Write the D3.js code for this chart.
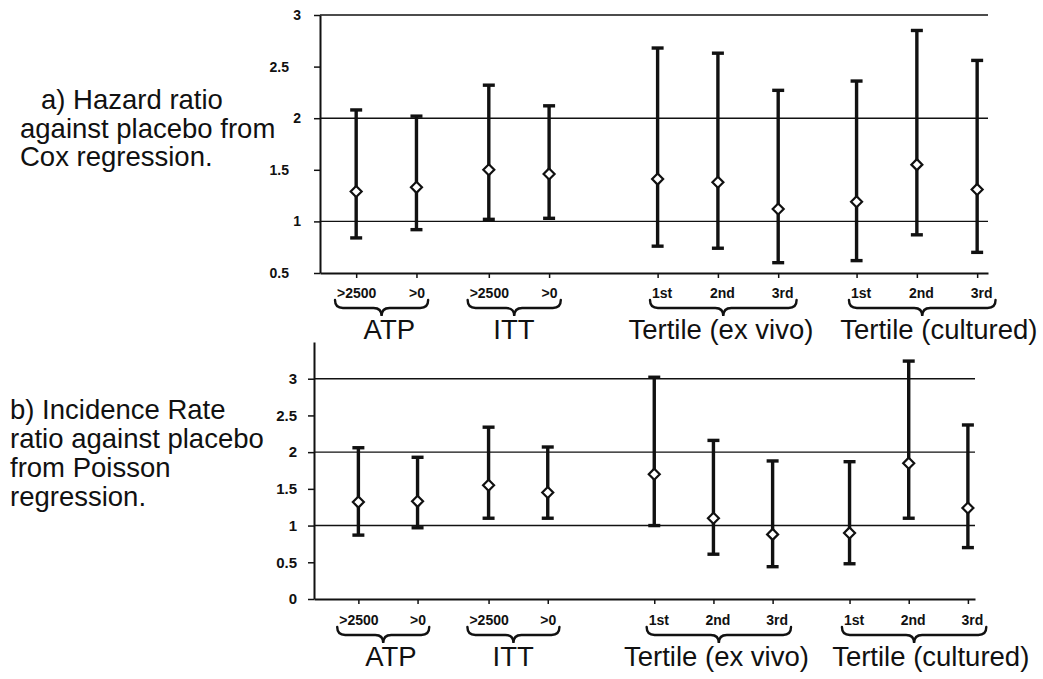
<!DOCTYPE html>
<html>
<head>
<meta charset="utf-8">
<script src="https://cdn.jsdelivr.net/npm/d3@7"></script>
<style>
  body { margin: 0; background: #fff; }
  svg { display: block; font-family: "Liberation Sans", Arial, sans-serif; }
</style>
</head>
<body>
<svg id="chart" width="1043" height="679"></svg>
<script>
// Categories along the x axis and the group each one belongs to
const categories = [">2500", ">0", ">2500", ">0", "1st", "2nd", "3rd", "1st", "2nd", "3rd"];
const groupNames = ["ATP", "ITT", "Tertile (ex vivo)", "Tertile (cultured)"];
const groupOf = [0, 0, 1, 1, 2, 2, 2, 3, 3, 3];

// a) Hazard ratio against placebo (Cox regression): estimate and 95% CI
const hazardEst  = [1.29, 1.33, 1.50, 1.46, 1.41, 1.38, 1.12, 1.19, 1.55, 1.31];
const hazardLow  = [0.84, 0.92, 1.02, 1.03, 0.76, 0.74, 0.60, 0.62, 0.87, 0.70];
const hazardHigh = [2.08, 2.02, 2.32, 2.12, 2.68, 2.63, 2.27, 2.36, 2.85, 2.56];
const hazardTicks = [0.5, 1, 1.5, 2, 2.5, 3];

// b) Incidence rate ratio against placebo (Poisson regression): estimate and 95% CI
const rateEst  = [1.32, 1.33, 1.55, 1.45, 1.70, 1.10, 0.88, 0.90, 1.85, 1.24];
const rateLow  = [0.87, 0.97, 1.10, 1.10, 1.00, 0.61, 0.44, 0.48, 1.10, 0.70];
const rateHigh = [2.06, 1.93, 2.34, 2.07, 3.02, 2.16, 1.88, 1.87, 3.24, 2.37];
const rateTicks = [0, 0.5, 1, 1.5, 2, 2.5, 3];

const gridValues = [1, 2, 3];

// Extra spacing inserted before each group on the category axis
const groupGap = [0, 0.2, 0.8, 0.3];
const slots = [];
{
  let offset = 0, prev = -1;
  categories.forEach((c, i) => {
    if (groupOf[i] !== prev) { offset += groupGap[groupOf[i]]; prev = groupOf[i]; }
    slots.push(i + offset);
  });
}

const svg = d3.select("#chart");

const panels = [
  {
    caption: ["a) Hazard ratio", "against placebo from", "Cox regression."],
    captionX: [41, 20, 20], captionY: 109, captionStep: 28.5,
    est: hazardEst, low: hazardLow, high: hazardHigh, ticks: hazardTicks,
    yDomain: [0.5, 3], left: 320, right: 988, top: 15, bottom: 273,
    xDomain: [-0.6, 10.48], tickFont: 14, intDx: -19, decDx: -31,
    labelY: 298, braceY: 300, groupY: 339
  },
  {
    caption: ["b) Incidence Rate", "ratio against placebo", "from Poisson", "regression."],
    captionX: [10, 10, 10, 10], captionY: 419, captionStep: 29,
    est: rateEst, low: rateLow, high: rateHigh, ticks: rateTicks,
    yDomain: [0, 3.5], left: 314, right: 975, top: 342, bottom: 599,
    xDomain: [-0.75, 10.42], tickFont: 15, intDx: -17, decDx: -17,
    labelY: 625, braceY: 627, groupY: 666
  }
];

// horizontal nudge of the group names relative to their members' centre
const labelShift = [3, -5, 3, 22];

function bracePath(x0, x1, y0) {
  const xm = (x0 + x1) / 2, yl = y0 + 8, tip = y0 + 16, r = 8;
  return `M${x0},${y0} C${x0},${yl - 3} ${x0 + 3},${yl} ${x0 + r},${yl}` +
         ` L${xm - r},${yl} C${xm - 3},${yl} ${xm},${yl + 3} ${xm},${tip}` +
         ` C${xm},${yl + 3} ${xm + 3},${yl} ${xm + r},${yl}` +
         ` L${x1 - r},${yl} C${x1 - 3},${yl} ${x1},${yl - 3} ${x1},${y0}`;
}

panels.forEach(p => {
  const g = svg.append("g");
  const x = d3.scaleLinear().domain(p.xDomain).range([p.left, p.right]);
  const y = d3.scaleLinear().domain(p.yDomain).range([p.bottom, p.top]);

  // caption on the left
  p.caption.forEach((line, i) => {
    g.append("text")
      .attr("x", p.captionX[i])
      .attr("y", p.captionY + i * p.captionStep)
      .attr("font-size", 27.5)
      .attr("fill", "#111")
      .text(line);
  });

  // horizontal reference lines
  g.append("g").selectAll("line").data(gridValues).join("line")
    .attr("x1", p.left).attr("x2", p.right)
    .attr("y1", d => y(d)).attr("y2", d => y(d))
    .attr("stroke", "#111").attr("stroke-width", 1.4);

  // y axis
  const yAxis = g.append("g")
    .attr("transform", `translate(${p.left},0)`)
    .call(d3.axisLeft(y).tickValues(p.ticks).tickSize(6).tickSizeOuter(0)
      .tickFormat(d => String(d)));
  yAxis.select(".domain").attr("stroke", "#111").attr("stroke-width", 2);
  yAxis.selectAll(".tick line").attr("stroke", "#111").attr("stroke-width", 1.5);
  yAxis.selectAll(".tick text")
    .attr("x", d => Number.isInteger(d) ? p.intDx : p.decDx)
    .attr("font-size", p.tickFont).attr("font-weight", "bold")
    .attr("font-family", "Liberation Sans, Arial, sans-serif")
    .attr("fill", "#111");

  // x axis with category ticks
  const xAxis = g.append("g")
    .attr("transform", `translate(0,${p.bottom})`)
    .call(d3.axisBottom(x).tickValues(slots).tickSize(5).tickSizeOuter(0)
      .tickFormat((d, i) => categories[i]));
  xAxis.select(".domain").attr("stroke", "#111").attr("stroke-width", 2);
  xAxis.selectAll(".tick line").attr("stroke", "#111").attr("stroke-width", 1.5);
  const xLabels = xAxis.selectAll(".tick text")
    .attr("y", p.labelY - p.bottom).attr("dy", 0)
    .attr("dx", (d, i) => groupOf[i] >= 2 ? 4 : 0)
    .attr("font-size", 14).attr("font-weight", "bold")
    .attr("font-family", "Liberation Sans, Arial, sans-serif")
    .attr("fill", "#111");

  // braces and group names under the categories
  const labelBoxes = [];
  xLabels.each(function (d, i) {
    const b = this.getBBox();
    const t = this.parentNode.transform.baseVal.consolidate().matrix.e;
    labelBoxes[i] = { x0: t + b.x, x1: t + b.x + b.width };
  });
  groupNames.forEach((name, gi) => {
    const idx = d3.range(categories.length).filter(i => groupOf[i] === gi);
    const x0 = labelBoxes[idx[0]].x0 - 2;
    const x1 = labelBoxes[idx[idx.length - 1]].x1 + 3;
    g.append("path")
      .attr("d", bracePath(x0, x1, p.braceY))
      .attr("fill", "none").attr("stroke", "#111").attr("stroke-width", 2.4)
      .attr("stroke-linecap", "round");
    const mid = (x(slots[idx[0]]) + x(slots[idx[idx.length - 1]])) / 2;
    g.append("text")
      .attr("x", mid + labelShift[gi]).attr("y", p.groupY)
      .attr("text-anchor", "middle").attr("font-size", 27.5).attr("fill", "#111")
      .text(name);
  });

  // confidence intervals
  const bars = g.append("g").selectAll("g").data(categories).join("g");
  bars.append("line")
    .attr("x1", (d, i) => x(slots[i])).attr("x2", (d, i) => x(slots[i]))
    .attr("y1", (d, i) => y(p.low[i])).attr("y2", (d, i) => y(p.high[i]))
    .attr("stroke", "#111").attr("stroke-width", 3.4);
  [p.low, p.high].forEach(arr => {
    bars.append("line")
      .attr("x1", (d, i) => x(slots[i]) - 6).attr("x2", (d, i) => x(slots[i]) + 6)
      .attr("y1", (d, i) => y(arr[i])).attr("y2", (d, i) => y(arr[i]))
      .attr("stroke", "#111").attr("stroke-width", 3.4);
  });

  // point estimates as open diamonds
  bars.append("path")
    .attr("d", (d, i) => {
      const cx = x(slots[i]), cy = y(p.est[i]), r = 5.5;
      return `M${cx},${cy - r} L${cx + r},${cy} L${cx},${cy + r} L${cx - r},${cy} Z`;
    })
    .attr("fill", "#fff").attr("stroke", "#111").attr("stroke-width", 2.2);
});
</script>
</body>
</html>
